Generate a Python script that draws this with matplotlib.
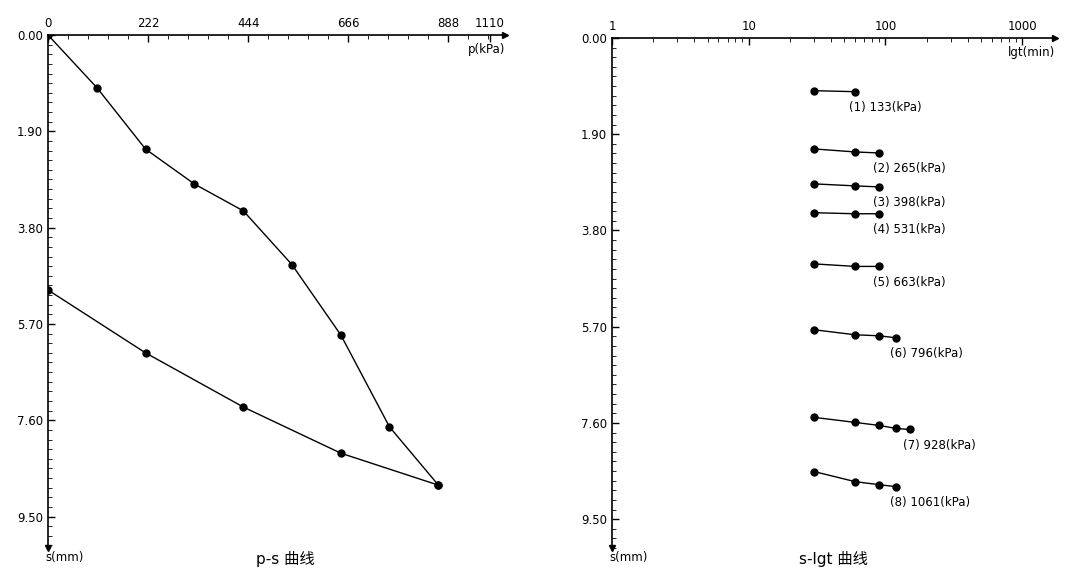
import numpy as np
import matplotlib.pyplot as plt

plt.rcParams['font.family'] = ['DejaVu Sans', 'Noto Sans CJK SC']

# ---- p-s 数据 ----
p_load = [0, 133, 265, 398, 531, 663, 796, 928, 1061]
s_load = [0, 1.04, 2.25, 2.94, 3.47, 4.53, 5.92, 7.73, 8.88]
p_unload = [1061, 796, 531, 265, 0]
s_unload = [8.88, 8.25, 7.34, 6.27, 5.03]
p_ticklabels = ['0', '222', '444', '666', '888', '1110']
p_tickpos = [0, 272, 544, 816, 1088, 1201]
s_ticks = [0.00, 1.90, 3.80, 5.70, 7.60, 9.50]

# ---- s-lgt 数据 ----
t_min = [30, 60, 90, 120, 150]
s_groups = [
    [1.04, 1.06],
    [2.19, 2.25, 2.27],
    [2.88, 2.92, 2.94],
    [3.45, 3.47, 3.47],
    [4.46, 4.51, 4.51],
    [5.76, 5.86, 5.88, 5.92],
    [7.49, 7.59, 7.65, 7.71, 7.73],
    [8.56, 8.76, 8.82, 8.86],
]
group_labels = ['(1) 133(kPa)', '(2) 265(kPa)', '(3) 398(kPa)', '(4) 531(kPa)',
                '(5) 663(kPa)', '(6) 796(kPa)', '(7) 928(kPa)', '(8) 1061(kPa)']

W, H = 1080, 575
fig = plt.figure(figsize=(W / 100, H / 100), dpi=100)
fig.patch.set_facecolor('white')


def style(ax):
    ax.xaxis.tick_top()
    ax.spines['right'].set_visible(False)
    ax.spines['bottom'].set_visible(False)
    for sp in ('top', 'left'):
        ax.spines[sp].set_linewidth(1.2)
    ax.tick_params(axis='both', direction='in', labelsize=8.5, length=5, width=1)
    ax.tick_params(which='minor', direction='in', length=3)
    ax.plot(1, 1, '>k', ms=5, transform=ax.transAxes, clip_on=False)
    ax.plot(0, 0, 'vk', ms=5, transform=ax.transAxes, clip_on=False)


# 左图
ax1 = fig.add_axes([48 / W, 1 - 548 / H, (505 - 48) / W, (548 - 35) / H])
ax1.plot(p_load, s_load, 'k-o', lw=1, ms=5)
ax1.plot(p_unload, s_unload, 'k-o', lw=1, ms=5)
ax1.set_xlim(0, 1242)
ax1.set_ylim(10.12, 0)
ax1.set_xticks(p_tickpos, p_ticklabels)
ax1.set_xticks(np.arange(0, 1242, 54.4), minor=True)
ax1.set_yticks(s_ticks, [f'{v:.2f}' for v in s_ticks])
ax1.set_yticks(np.arange(0, 10.1, 0.19), minor=True)
style(ax1)
ax1.text(1.0, 0.965, 'p(kPa)', transform=ax1.transAxes, ha='right', fontsize=8.5)
ax1.text(-0.005, -0.005, 's(mm)', transform=ax1.transAxes, ha='left', va='top', fontsize=8.5)
ax1.text(0.52, -0.005, 'p-s 曲线', transform=ax1.transAxes, ha='center', va='top',
         fontsize=11, family=['DejaVu Sans', 'Noto Sans CJK SC'])

# 右图
ax2 = fig.add_axes([612 / W, 1 - 548 / H, (1055 - 612) / W, (548 - 38) / H])
for i, sg in enumerate(s_groups):
    ax2.plot(t_min[:len(sg)], sg, 'k-o', lw=1, ms=5)
    ax2.text(t_min[len(sg) - 1] * 0.9, sg[-1] + 0.18, group_labels[i],
             ha='left', va='top', fontsize=8.5)
ax2.set_xscale('log')
ax2.set_xlim(1, 10 ** 3.24)
ax2.set_ylim(10.06, 0)
ax2.set_xticks([1, 10, 100, 1000], ['1', '10', '100', '1000'])
ax2.set_yticks(s_ticks, [f'{v:.2f}' for v in s_ticks])
ax2.set_yticks(np.arange(0, 10.1, 0.19), minor=True)
style(ax2)
ax2.text(1.0, 0.965, 'lgt(min)', transform=ax2.transAxes, ha='right', fontsize=8.5)
ax2.text(-0.005, -0.005, 's(mm)', transform=ax2.transAxes, ha='left', va='top', fontsize=8.5)
ax2.text(0.5, -0.005, 's-lgt 曲线', transform=ax2.transAxes, ha='center', va='top',
         fontsize=11, family=['DejaVu Sans', 'Noto Sans CJK SC'])

fig.savefig('out.png', dpi=100)
